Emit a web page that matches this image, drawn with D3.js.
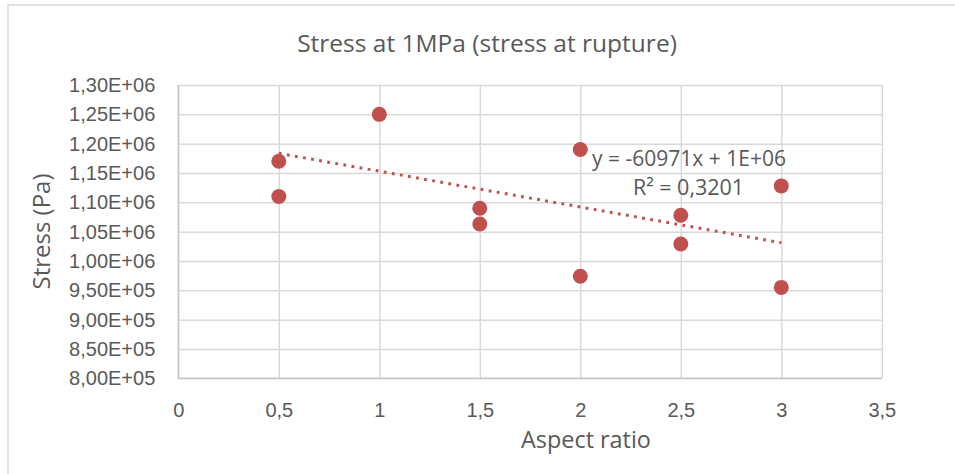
<!DOCTYPE html>
<html>
<head>
<meta charset="utf-8">
<script src="https://cdn.jsdelivr.net/npm/d3@7"></script>
<style>
  html, body { margin: 0; padding: 0; background: #fff; }
  svg { display: block; font-family: "Open Sans", "DejaVu Sans", sans-serif; }
</style>
</head>
<body>
<svg id="chart" width="955" height="474"></svg>
<script>
// ---- data ----
const aspectRatio = [0.5, 0.5, 1, 1.5, 1.5, 2, 2, 2.5, 2.5, 3, 3];
const stressPa = [1170000, 1110000, 1250000, 1090000, 1063000, 1190000, 974000, 1078000, 1029000, 1128000, 955000];
const xTicks = [0, 0.5, 1, 1.5, 2, 2.5, 3, 3.5];
const yTicks = [800000, 850000, 900000, 950000, 1000000, 1050000, 1100000, 1150000, 1200000, 1250000, 1300000];
const trendSlope = -60971;
const trendIntercept = 1214000;
const trendRange = [0.5, 3];
const titleText = "Stress at 1MPa (stress at rupture)";
const xTitle = "Aspect ratio";
const yTitle = "Stress (Pa)";
const eqText = "y = -60971x + 1E+06";
const r2Text = "R² = 0,3201";

// ---- layout ----
const svg = d3.select("#chart");
const plot = { left: 178.3, right: 881.8, top: 85, bottom: 378.3 };
const x = d3.scaleLinear().domain([0, 3.5]).range([plot.left, plot.right]);
const y = d3.scaleLinear().domain([800000, 1300000]).range([plot.bottom, plot.top]);
const grey = "#595959";
const gridCol = "#D9D9D9";
const dotCol = "#C0504D";
const fmt = v => {
  const s = v.toExponential(2);
  const [m, e] = s.split("e");
  const sign = e[0];
  const ex = Math.abs(+e).toString().padStart(2, "0");
  return m.replace(".", ",") + "E" + sign + ex;
};
const fmtX = v => String(v).replace(".", ",");

// outer chart border
svg.append("rect").attr("x", 8).attr("y", 5).attr("width", 1000).attr("height", 600)
  .attr("fill", "none").attr("stroke", gridCol).attr("stroke-width", 1.5);

// gridlines via axes
const yGrid = d3.axisLeft(y).tickValues(yTicks).tickSize(-(plot.right - plot.left)).tickFormat("");
svg.append("g").attr("transform", `translate(${plot.left},0)`).call(yGrid)
  .call(g => g.select(".domain").remove())
  .call(g => g.selectAll("line").attr("stroke", gridCol).attr("stroke-width", 1.5));
const xGrid = d3.axisBottom(x).tickValues(xTicks).tickSize(-(plot.bottom - plot.top)).tickFormat("");
svg.append("g").attr("transform", `translate(0,${plot.bottom})`).call(xGrid)
  .call(g => g.select(".domain").remove())
  .call(g => g.selectAll("line").attr("stroke", gridCol).attr("stroke-width", 1.5));

// axis lines (slightly darker)
svg.append("line").attr("x1", plot.left).attr("x2", plot.right).attr("y1", plot.bottom).attr("y2", plot.bottom)
  .attr("stroke", "#C8C8C8").attr("stroke-width", 1.5);
svg.append("line").attr("x1", plot.left).attr("x2", plot.left).attr("y1", plot.top).attr("y2", plot.bottom)
  .attr("stroke", "#C8C8C8").attr("stroke-width", 1.5);

// tick labels via axes
const yAxis = d3.axisLeft(y).tickValues(yTicks).tickSize(0).tickPadding(23).tickFormat(fmt);
svg.append("g").attr("transform", `translate(${plot.left},0)`).call(yAxis)
  .call(g => g.select(".domain").remove())
  .call(g => g.selectAll("text").attr("fill", grey).style("font-size", "20px").style("font-family", "inherit"));
const xAxis = d3.axisBottom(x).tickValues(xTicks).tickSize(0).tickPadding(38.5).tickFormat(fmtX);
svg.append("g").attr("transform", `translate(0,${plot.bottom})`).call(xAxis)
  .call(g => g.select(".domain").remove())
  .call(g => g.selectAll("text").attr("fill", grey).style("font-size", "20px").style("font-family", "inherit").attr("dy", "0"));

// trendline
const line = d3.line().x(d => x(d)).y(d => y(trendSlope * d + trendIntercept));
svg.append("path").datum(trendRange).attr("d", line)
  .attr("fill", "none").attr("stroke", dotCol).attr("stroke-width", 3)
  .attr("stroke-dasharray", "2.8,5.4");

// points
svg.append("g").selectAll("circle").data(aspectRatio.map((a, i) => [a, stressPa[i]])).join("circle")
  .attr("cx", d => x(d[0])).attr("cy", d => y(d[1])).attr("r", 7.5).attr("fill", dotCol);

// titles
svg.append("text").attr("x", 487).attr("y", 52).attr("text-anchor", "middle")
  .attr("fill", grey).style("font-size", "24.5px").text(titleText);
svg.append("text").attr("x", 586).attr("y", 448).attr("text-anchor", "middle")
  .attr("fill", grey).style("font-size", "23.4px").text(xTitle);
svg.append("text").attr("transform", "translate(50,231.5) rotate(-90)").attr("text-anchor", "middle")
  .attr("fill", grey).style("font-size", "24px").text(yTitle);

// equation label
svg.append("text").attr("x", 689).attr("y", 166).attr("text-anchor", "middle")
  .attr("fill", grey).style("font-size", "21px").text(eqText);
svg.append("text").attr("x", 688.5).attr("y", 195).attr("text-anchor", "middle")
  .attr("fill", grey).style("font-size", "21.5px").text(r2Text);
</script>
</body>
</html>
